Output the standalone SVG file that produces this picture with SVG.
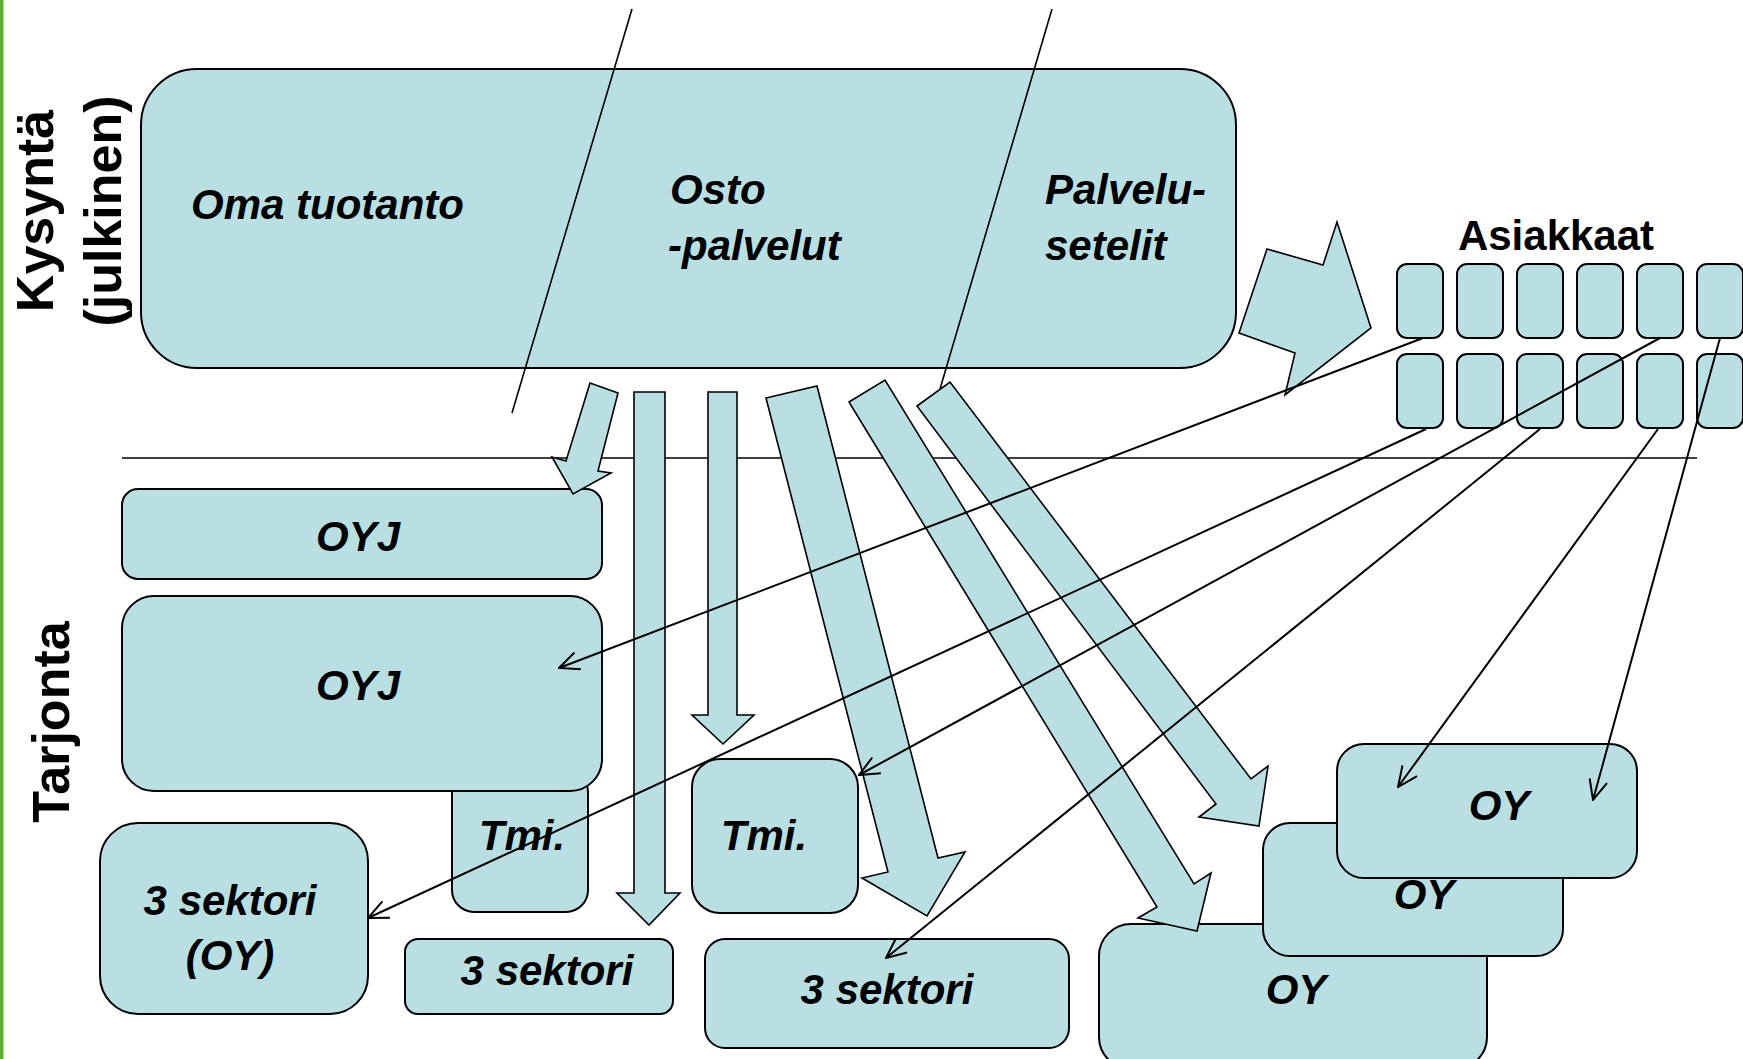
<svg xmlns="http://www.w3.org/2000/svg" width="1743" height="1059" viewBox="0 0 1743 1059">
<defs>
<style>
.box{fill:#b9dfe3;stroke:#000;stroke-width:2}
.blk{fill:#b9dfe3;stroke:#000;stroke-width:1.6;stroke-linejoin:miter}
.ln{fill:none;stroke:#000;stroke-width:1.6}
.tl{fill:none;stroke:#000;stroke-width:2}
.lbl{font-family:"Liberation Sans",Arial,sans-serif;font-weight:bold;font-style:italic;font-size:42px;fill:#000}
.side{font-family:"Liberation Sans",Arial,sans-serif;font-weight:bold;font-size:52px;fill:#000}
</style>
<marker id="oa2" viewBox="0 0 22 20" refX="21" refY="10" markerWidth="22" markerHeight="20" markerUnits="userSpaceOnUse" orient="auto">
<path d="M1,1 L21,10 L1,19" fill="none" stroke="#000" stroke-width="2"/>
</marker>
</defs>
<rect width="1743" height="1059" fill="#fff"/>
<rect x="0" y="0" width="3.5" height="1059" fill="#5fb030"/>

<g id="side-labels">
<text class="side" transform="translate(53,211) rotate(-90)" text-anchor="middle">Kysyntä</text>
<text class="side" transform="translate(121,211) rotate(-90)" text-anchor="middle">(julkinen)</text>
<text class="side" transform="translate(69,722) rotate(-90)" text-anchor="middle">Tarjonta</text>
</g>

<g id="kysynta">
<rect class="box" x="141" y="69" width="1095" height="299" rx="56"/>
<text class="lbl" x="191" y="219">Oma tuotanto</text>
<text class="lbl" x="670" y="204">Osto</text>
<text class="lbl" x="668" y="260">-palvelut</text>
<text class="lbl" x="1045" y="204">Palvelu-</text>
<text class="lbl" x="1045" y="260">setelit</text>
</g>

<g id="asiakkaat">
<text x="1556" y="250" text-anchor="middle" style="font-family:'Liberation Sans',Arial,sans-serif;font-weight:bold;font-size:42px">Asiakkaat</text>
<rect class="box" x="1397" y="264" width="46" height="74" rx="10"/>
<rect class="box" x="1457" y="264" width="46" height="74" rx="10"/>
<rect class="box" x="1517" y="264" width="46" height="74" rx="10"/>
<rect class="box" x="1577" y="264" width="46" height="74" rx="10"/>
<rect class="box" x="1637" y="264" width="46" height="74" rx="10"/>
<rect class="box" x="1697" y="264" width="46" height="74" rx="10"/>
<rect class="box" x="1397" y="354" width="46" height="74" rx="10"/>
<rect class="box" x="1457" y="354" width="46" height="74" rx="10"/>
<rect class="box" x="1517" y="354" width="46" height="74" rx="10"/>
<rect class="box" x="1577" y="354" width="46" height="74" rx="10"/>
<rect class="box" x="1637" y="354" width="46" height="74" rx="10"/>
<rect class="box" x="1697" y="354" width="46" height="74" rx="10"/>
</g>

<g id="separator">
<line class="ln" x1="122" y1="458" x2="1697" y2="458"/>
</g>

<g id="tmi-left"><rect class="box" x="452" y="770" width="136" height="142" rx="22"/>
<text class="lbl" x="522" y="850" text-anchor="middle">Tmi.</text></g>
<g id="oyj1"><rect class="box" x="122" y="489" width="480" height="90" rx="16"/>
<text class="lbl" x="358" y="551" text-anchor="middle">OYJ</text></g>
<g id="oyj2"><rect class="box" x="122" y="596" width="480" height="195" rx="32"/>
<text class="lbl" x="358" y="700" text-anchor="middle">OYJ</text></g>
<g id="sektori-oy"><rect class="box" x="100" y="823" width="268" height="191" rx="38"/>
<text class="lbl" x="230" y="915" text-anchor="middle">3 sektori</text>
<text class="lbl" x="230" y="970" text-anchor="middle">(OY)</text></g>
<g id="sektori-small"><rect class="box" x="405" y="939" width="268" height="75" rx="13"/>
<text class="lbl" x="547" y="985" text-anchor="middle">3 sektori</text></g>
<g id="tmi-right"><rect class="box" x="692" y="759" width="166" height="154" rx="28"/>
<text class="lbl" x="764" y="850" text-anchor="middle">Tmi.</text></g>
<g id="sektori-big"><rect class="box" x="705" y="939" width="364" height="109" rx="20"/>
<text class="lbl" x="887" y="1004" text-anchor="middle">3 sektori</text></g>
<g id="oy-bottom"><rect class="box" x="1099" y="924" width="388" height="145" rx="32"/>
<text class="lbl" x="1296" y="1004" text-anchor="middle">OY</text></g>
<g id="oy-middle"><rect class="box" x="1263" y="823" width="300" height="133" rx="27"/>
<text class="lbl" x="1424" y="909" text-anchor="middle">OY</text></g>
<g id="oy-top"><rect class="box" x="1337" y="744" width="300" height="134" rx="27"/>
<text class="lbl" x="1499" y="820" text-anchor="middle">OY</text></g>

<g id="connectors">
<polygon class="blk" points="1267,249 1323,265 1337,222 1371,328 1285,395 1295,353 1239,333"/>
<polygon class="blk" points="590,383 618,393 598,471 611,473 573,494 552,457 566,461"/>
<polygon class="blk" points="634,392 665,392 665,893 680,893 649,925 617,893 634,893"/>
<polygon class="blk" points="708,392 737,392 737,715 754,715 723,744 692,715 708,715"/>
<polygon class="blk" points="766,398 817,386 938,858 965,852 927,916 862,878 888,872"/>
<polygon class="blk" points="849,402 885,380 1194,884 1211,873 1197,931 1138,918 1157,907"/>
<polygon class="blk" points="917,406 950,382 1251,779 1268,766 1259,826 1199,817 1216,804"/>
<line class="ln" x1="632" y1="9" x2="512" y2="413"/>
<line class="ln" x1="1052" y1="9" x2="940" y2="389"/>
<line class="tl" x1="1423" y1="338" x2="559" y2="668" marker-end="url(#oa2)"/>
<line class="tl" x1="1426" y1="429" x2="368" y2="918" marker-end="url(#oa2)"/>
<line class="tl" x1="1660" y1="338" x2="859" y2="775" marker-end="url(#oa2)"/>
<line class="tl" x1="1540" y1="429" x2="886" y2="958" marker-end="url(#oa2)"/>
<line class="tl" x1="1658" y1="429" x2="1398" y2="787" marker-end="url(#oa2)"/>
<line class="tl" x1="1720" y1="338" x2="1593" y2="800" marker-end="url(#oa2)"/>
</g>
</svg>
